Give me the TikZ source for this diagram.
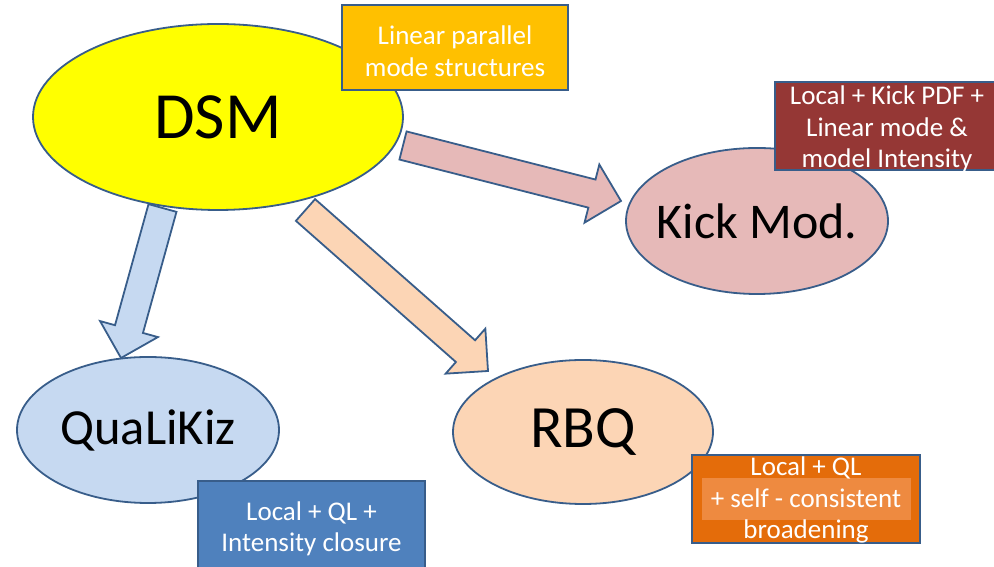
\documentclass[tikz,border=0pt]{standalone}
\usepackage{fontspec}
\setmainfont{Carlito}
\usetikzlibrary{shapes,positioning,calc}

\definecolor{edgeblue}{HTML}{385D8A}
\definecolor{dsmyellow}{HTML}{FFFF00}
\definecolor{linorange}{HTML}{FFC000}
\definecolor{kickpink}{HTML}{E6B9B8}
\definecolor{kickred}{HTML}{953735}
\definecolor{qlkblue}{HTML}{C6D9F1}
\definecolor{qlkdark}{HTML}{4F81BD}
\definecolor{rbqpeach}{HTML}{FCD5B5}
\definecolor{rbqorange}{HTML}{E46C0A}
\definecolor{rbqlight}{HTML}{EE8A40}

\tikzset{
  model/.style={ellipse, draw=edgeblue, line width=1.8pt, inner sep=0pt},
  boxtext/.style={text=white, align=center, inner sep=0pt, font=\fontsize{27}{31.5}\selectfont},
  infobox/.style={rectangle, draw=edgeblue, line width=1.8pt, inner sep=0pt},
  fatline/.style={draw=edgeblue, line width=1.8pt, line join=miter},
}

% block arrow: tail, tip, fill colour
\newcommand{\fatarrow}[3]{%
  \coordinate (#1-hb) at ($(#2)!30pt!(#1)$);
  \draw[fatline, fill=#3]
    ($(#1)!14.5pt!90:(#2)$)
    -- ($(#1-hb)!14.5pt!90:(#2)$)
    -- ($(#1-hb)!30pt!90:(#2)$)
    -- (#2)
    -- ($(#1-hb)!30pt!-90:(#2)$)
    -- ($(#1-hb)!14.5pt!-90:(#2)$)
    -- ($(#1)!14.5pt!-90:(#2)$)
    -- cycle;
}

\begin{document}
\begin{tikzpicture}[x=1pt,y=1pt]
  \clip (0,0) rectangle (994,567);
  \useasboundingbox (0,0) rectangle (994,567);

  % models
  \node[model, fill=dsmyellow, minimum width=370pt, minimum height=186pt,
    label={[font=\fontsize{66}{70}\selectfont]center:DSM}] (dsm) at (218,450) {};
  \node[model, fill=kickpink, minimum width=262pt, minimum height=146pt,
    label={[font=\fontsize{50}{54}\selectfont]center:Kick Mod.}] (kick) at (757,346) {};
  \node[model, fill=qlkblue, minimum width=262pt, minimum height=146pt,
    label={[font=\fontsize{50.5}{55}\selectfont]center:QuaLiKiz}] (qlk) at (148,137) {};
  \node[model, fill=rbqpeach, minimum width=260pt, minimum height=144pt,
    label={[font=\fontsize{60}{64}\selectfont]center:RBQ}] (rbq) at (583,135) {};

  % arrows
  \coordinate (tokick) at (403,421.5);
  \coordinate (kickend) at (621,366);
  \coordinate (torbq) at (305.5,357);
  \coordinate (rbqend) at (488,196);
  \coordinate (toqlk) at (162.5,359);
  \coordinate (qlkend) at (121,209);
  \fatarrow{tokick}{kickend}{kickpink}
  \fatarrow{torbq}{rbqend}{rbqpeach}
  \fatarrow{toqlk}{qlkend}{qlkblue}

  % boxes
  \node[infobox, fill=linorange, minimum width=226pt, minimum height=85pt] (linbox) at (455,519.5) {};
  \node[boxtext, font=\fontsize{27}{32}\selectfont, yshift=-4pt] (lintext) at (linbox) {Linear parallel\\mode structures};
  \node[infobox, fill=kickred, minimum width=224pt, minimum height=88pt] (kickbox) at (887,441) {};
  \node[boxtext, yshift=-3pt] (kicktext) at (kickbox) {Local + Kick PDF +\\Linear mode \&\\model Intensity};
  \node[infobox, fill=qlkdark, minimum width=227pt, minimum height=92pt] (qlkbox) at (311.5,40) {};
  \node[boxtext, yshift=-2pt] (qlktext) at (qlkbox) {Local + QL +\\Intensity closure};
  \node[infobox, fill=rbqorange, minimum width=228pt, minimum height=88pt] (rbqbox) at (806,68) {};
  \fill[rbqlight] (702,89) rectangle (911,47);
  \node[boxtext, yshift=-1pt] (rbqtext) at (rbqbox) {Local + QL\\+ self - consistent\\broadening};
\end{tikzpicture}
\end{document}
